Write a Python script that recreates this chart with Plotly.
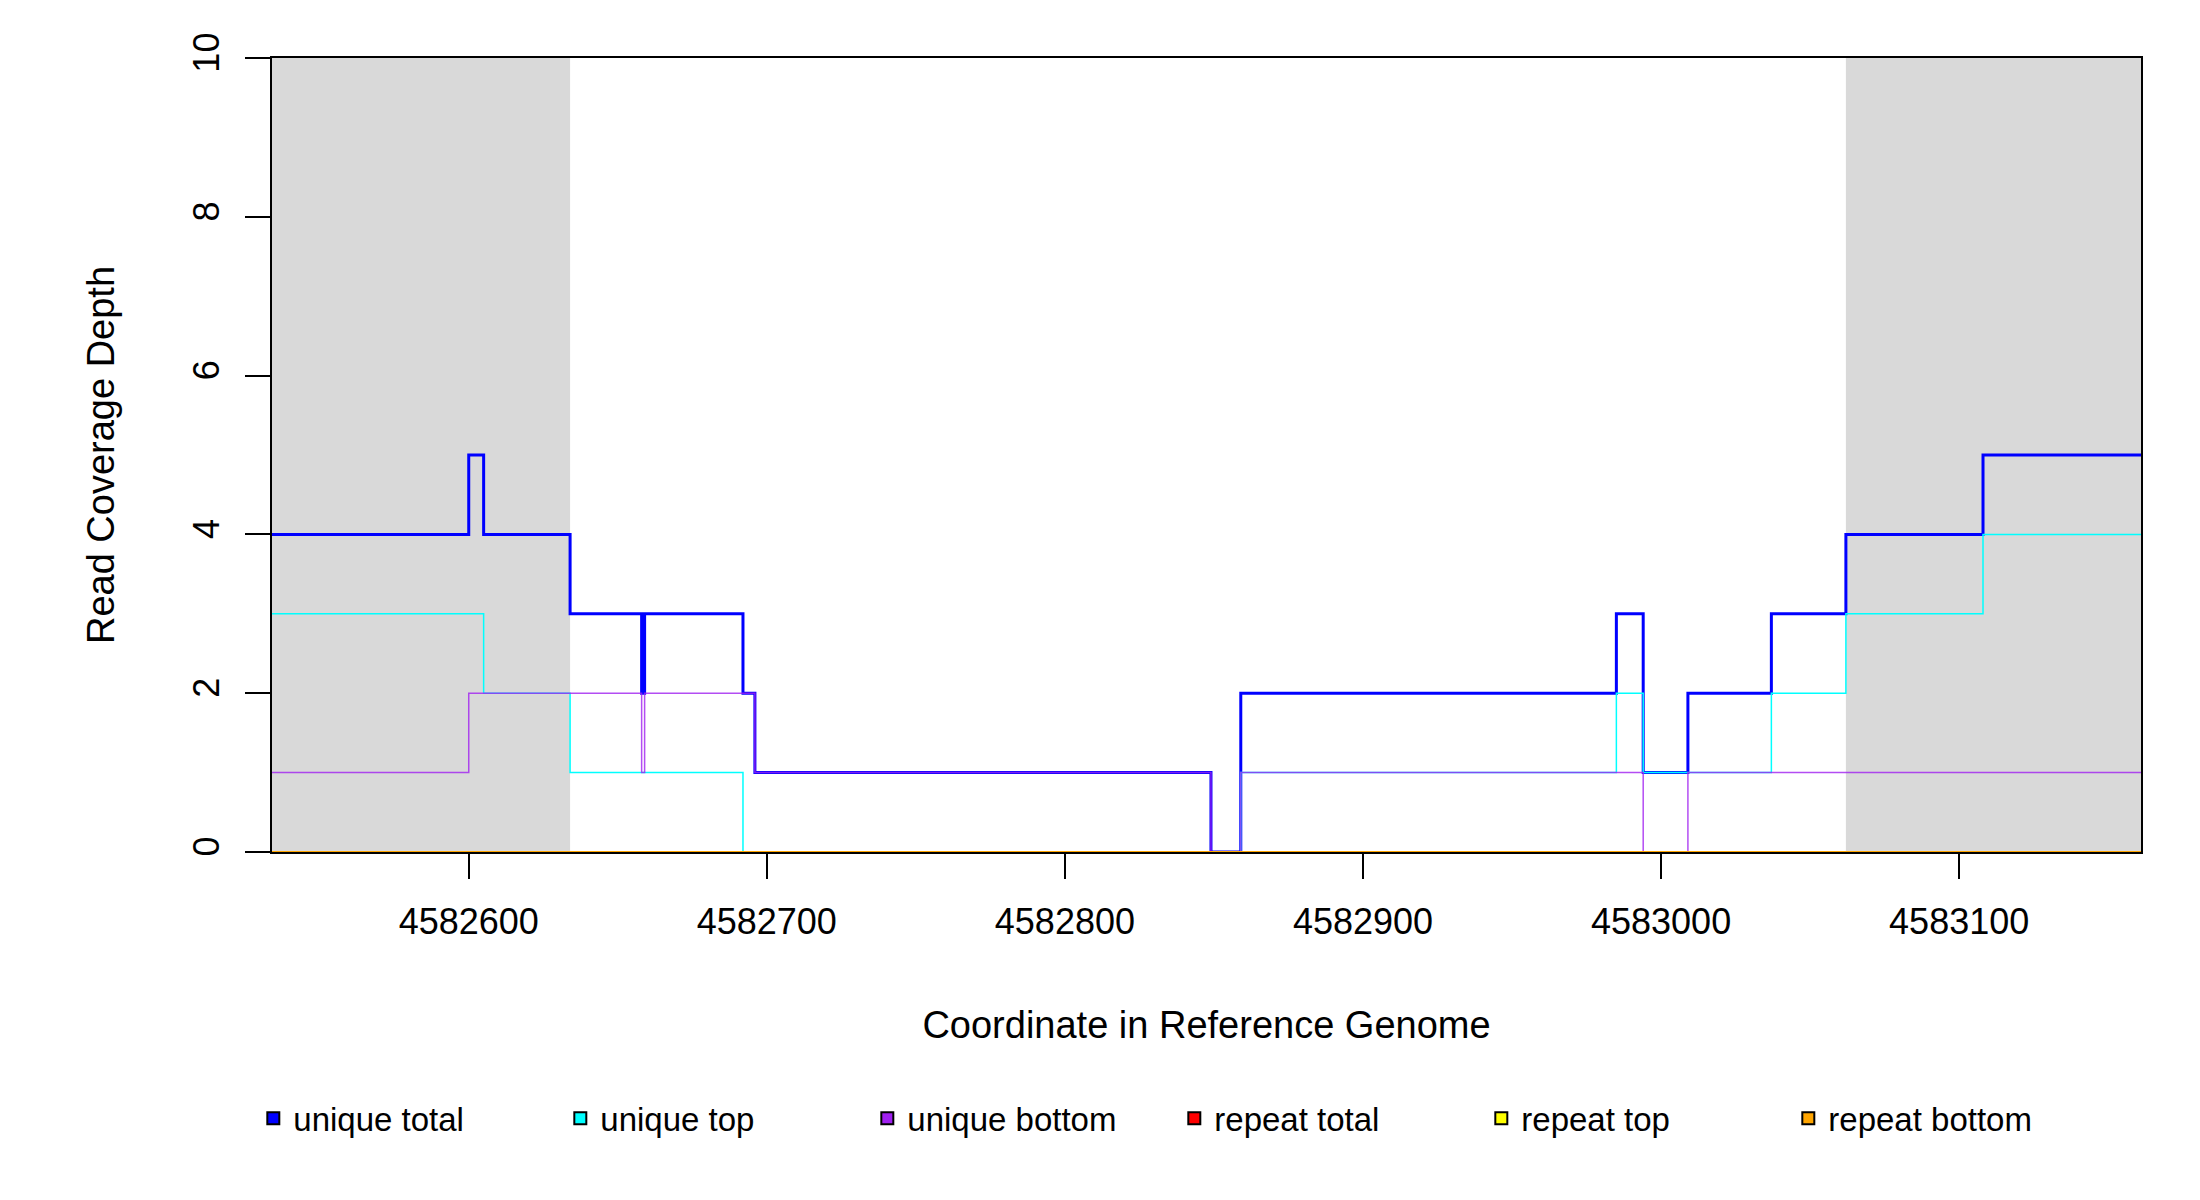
import plotly.graph_objs as go

# step coordinates (start of each segment) and values
total_x = [4582534, 4582600, 4582605, 4582634, 4582658, 4582659, 4582692, 4582696,
           4582849, 4582859, 4582985, 4582994, 4583009, 4583037, 4583062, 4583108, 4583161]
total_y = [4, 5, 4, 3, 2, 3, 2, 1, 0, 2, 3, 1, 2, 3, 4, 5, 5]

top_x = [4582534, 4582605, 4582634, 4582692, 4582859, 4582985, 4582994, 4583037,
         4583062, 4583108, 4583161]
top_y = [3, 2, 1, 0, 1, 2, 1, 2, 3, 4, 4]

bottom_x = [4582534, 4582600, 4582658, 4582659, 4582696, 4582849, 4582859, 4582994,
            4583009, 4583161]
bottom_y = [1, 2, 1, 2, 1, 0, 1, 0, 1, 1]

repeat_x = [4582534, 4583161]
repeat_y = [0, 0]

shaded = [(4582534, 4582634), (4583062, 4583161)]

legend_names = ["unique total", "unique top", "unique bottom", "repeat total", "repeat top", "repeat bottom"]
legend_colors = ["blue", "cyan", "#a020f0", "red", "yellow", "orange"]

fig = go.Figure()
fig.add_trace(go.Scatter(x=repeat_x, y=repeat_y, mode="lines", line=dict(color="red", width=2), showlegend=False))
fig.add_trace(go.Scatter(x=repeat_x, y=repeat_y, mode="lines", line=dict(color="yellow", width=2), showlegend=False))
fig.add_trace(go.Scatter(x=total_x, y=total_y, mode="lines", line_shape="hv",
                         line=dict(color="blue", width=3), showlegend=False))
fig.add_trace(go.Scatter(x=top_x, y=top_y, mode="lines", line_shape="hv",
                         line=dict(color="cyan", width=1.5), showlegend=False))
fig.add_trace(go.Scatter(x=bottom_x, y=bottom_y, mode="lines", line_shape="hv",
                         line=dict(color="rgba(160,32,240,0.8)", width=1.5), showlegend=False))
fig.add_trace(go.Scatter(x=repeat_x, y=repeat_y, mode="lines", line=dict(color="orange", width=2), showlegend=False))

# legend entries as filled squares
for name, col in zip(legend_names, legend_colors):
    fig.add_trace(go.Scatter(x=[None], y=[None], mode="markers", name=name,
                             marker=dict(symbol="square", size=24, color=col, line=dict(color="black", width=1.5))))

for x0, x1 in shaded:
    fig.add_shape(type="rect", xref="x", yref="paper", x0=x0, x1=x1, y0=0, y1=1,
                  fillcolor="#d9d9d9", line_width=0, layer="below")

fig.update_layout(
    width=2200, height=1200,
    margin=dict(l=264, r=67, t=50, b=356),
    plot_bgcolor="white", paper_bgcolor="white",
    font=dict(family="Liberation Sans, Arial, sans-serif", size=36, color="black"),
    showlegend=True,
    legend=dict(orientation="h", x=-0.01, xanchor="left", y=-0.3, yanchor="top",
                font=dict(size=33), entrywidth=262, entrywidthmode="pixels",
                itemsizing="constant"),
)
fig.update_xaxes(range=[4582534, 4583161], tickvals=[4582600, 4582700, 4582800, 4582900, 4583000, 4583100],
                 ticks="outside", ticklen=25, tickwidth=1.5, tickcolor="black",
                 showline=True, linecolor="black", linewidth=1.5, mirror=True, showgrid=False, zeroline=False,
                 title=dict(text="Coordinate in Reference Genome", font=dict(size=38), standoff=70), tickformat="d",
                 ticklabelstandoff=12)
fig.update_yaxes(range=[0, 10], tickvals=[0, 2, 4, 6, 8, 10], tickangle=-90,
                 ticks="outside", ticklen=25, tickwidth=1.5, tickcolor="black",
                 showline=True, linecolor="black", linewidth=1.5, mirror=True, showgrid=False, zeroline=False,
                 title=dict(text="Read Coverage Depth", font=dict(size=38), standoff=60),
                 ticklabelstandoff=12)

fig.write_html("out.html")
